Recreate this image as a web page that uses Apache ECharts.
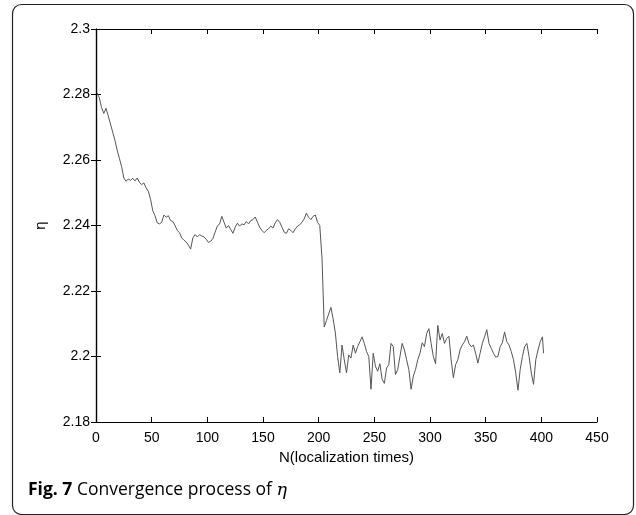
<!DOCTYPE html>
<html>
<head>
<meta charset="utf-8">
<script src="https://cdn.jsdelivr.net/npm/echarts@6/dist/echarts.min.js"></script>
<style>html,body{margin:0;padding:0;background:#fff;}#c{width:636px;height:515px;}</style>
</head>
<body>
<div id="c"></div>
<script>
// N (localization times) sample positions
const N = [1,3,5,7,9,11,13,15,17,19,21,23,25,27,29,31,33,35,37,39,41,43,45,47,49,51,53,55,57,59,61,63,65,67,69,71,73,75,77,79,81,83,85,87,89,91,93,95,97,99,101,103,105,107,109,111,113,115,117,119,121,123,125,127,129,131,133,135,137,139,141,143,145,147,149,151,153,155,157,159,161,163,165,167,169,171,173,175,177,179,181,183,185,187,189,191,193,195,197,199,201,203,205,207,209,211,213,215,217,219,221,223,225,227,229,231,233,235,237,239,241,243,245,247,249,251,253,255,257,259,261,263,265,267,269,271,273,275,277,279,281,283,285,287,289,291,293,295,297,299,301,303,305,307,309,311,313,315,317,319,321,323,325,327,329,331,333,335,337,339,341,343,345,347,349,351,353,355,357,359,361,363,365,367,369,371,373,375,377,379,381,383,385,387,389,391,393,395,397,399,401,402];
// eta values
const eta = [2.2805,2.2790,2.2760,2.2742,2.2758,2.2735,2.2710,2.2685,2.2660,2.2630,2.2605,2.2580,2.2545,2.2535,2.2542,2.2538,2.2544,2.2536,2.2545,2.2532,2.2525,2.2530,2.2515,2.2505,2.2480,2.2445,2.2430,2.2408,2.2405,2.2410,2.2432,2.2425,2.2430,2.2415,2.2412,2.2400,2.2385,2.2378,2.2362,2.2355,2.2350,2.2340,2.2328,2.2362,2.2372,2.2365,2.2372,2.2368,2.2365,2.2358,2.2348,2.2352,2.2360,2.2380,2.2398,2.2405,2.2428,2.2410,2.2392,2.2400,2.2388,2.2376,2.2395,2.2407,2.2398,2.2405,2.2402,2.2412,2.2405,2.2415,2.2418,2.2426,2.2410,2.2395,2.2385,2.2378,2.2385,2.2390,2.2398,2.2392,2.2408,2.2418,2.2410,2.2395,2.2380,2.2376,2.2390,2.2385,2.2378,2.2390,2.2398,2.2402,2.2410,2.2420,2.2438,2.2425,2.2418,2.2428,2.2432,2.2410,2.2400,2.2300,2.2090,2.2110,2.2130,2.2150,2.2115,2.2072,2.2000,2.1950,2.2035,2.1990,2.1950,2.2005,2.1995,2.2035,2.2010,2.2030,2.2045,2.2060,2.2040,2.2015,2.2000,2.1900,2.2010,2.1970,2.1955,2.1978,2.1930,2.1918,2.1965,2.1975,2.2040,2.2030,2.1945,2.1960,2.2000,2.2040,2.2020,2.1990,2.1960,2.1900,2.1940,2.1960,2.1990,2.2010,2.2042,2.2030,2.2070,2.2085,2.2040,2.2000,2.1978,2.2095,2.2050,2.2070,2.2040,2.2055,2.2062,2.1990,2.1935,2.1975,2.1990,2.2020,2.2035,2.2045,2.2062,2.2040,2.2030,2.2035,2.2010,2.1980,2.2010,2.2040,2.2060,2.2082,2.2040,2.2025,2.2010,2.1998,2.2000,2.2030,2.2042,2.2075,2.2045,2.2035,2.2015,2.1990,2.1950,2.1897,2.1960,2.2000,2.2030,2.2040,2.2000,2.1950,2.1915,2.1990,2.2020,2.2045,2.2060,2.2010];
const xTicks = [0,50,100,150,200,250,300,350,400,450];
const yTicks = [2.18,2.2,2.22,2.24,2.26,2.28,2.3];

const chart = echarts.init(document.getElementById('c'), null, {renderer:'canvas'});
const font = 'Liberation Sans, Arial, sans-serif';
const axisCommon = {
  axisLine:{show:true,lineStyle:{color:'#000',width:1.2}},
  axisTick:{show:true,inside:true,length:5,lineStyle:{color:'#000',width:1}},
  splitLine:{show:false}
};
chart.setOption({
  backgroundColor:'#fff',
  animation:false,
  grid:{left:96,right:39,top:29,bottom:93,containLabel:false},
  xAxis:[
    Object.assign({type:'value',min:xTicks[0],max:xTicks[xTicks.length-1],interval:50,position:'bottom',
      name:'N(localization times)',nameLocation:'middle',nameGap:26,
      nameTextStyle:{fontFamily:font,fontSize:15,color:'#000'},
      axisLabel:{fontFamily:font,fontSize:14,color:'#000',margin:9}},axisCommon),
    Object.assign({type:'value',min:0,max:450,interval:50,position:'top',axisLabel:{show:false}},axisCommon)
  ],
  yAxis:[
    Object.assign({type:'value',min:yTicks[0],max:yTicks[yTicks.length-1],interval:0.02,position:'left',
      name:'η',nameLocation:'middle',nameGap:48,nameRotate:90,
      nameTextStyle:{fontFamily:font,fontSize:15,color:'#000'},
      axisLabel:{fontFamily:font,fontSize:14,color:'#000',margin:6,
        formatter:v=>String(parseFloat(v.toFixed(2)))}},axisCommon),
    Object.assign({type:'value',min:2.18,max:2.3,interval:0.02,position:'right',axisLabel:{show:false}},axisCommon)
  ],
  series:[{
    type:'line',
    data:N.map((n,i)=>[n,eta[i]]),
    showSymbol:false,symbol:'none',
    lineStyle:{color:'#555',width:1},
    xAxisIndex:0,yAxisIndex:0
  }],
  graphic:[
    {type:'rect',shape:{x:12.5,y:4.5,width:621,height:510,r:9},style:{fill:'none',stroke:'#222',lineWidth:1.2},silent:true},
    {type:'text',left:28,top:481,style:{
      rich:{
        b:{fontFamily:'Open Sans, sans-serif',fontWeight:'bold',fontSize:17.5,fill:'#000'},
        r:{fontFamily:'Open Sans, sans-serif',fontSize:17.5,fill:'#000'},
        i:{fontFamily:'DejaVu Serif, serif',fontStyle:'italic',fontSize:17.5,fill:'#000'}
      },
      text:'{b|Fig. 7}{r| Convergence process of }{i|η}'
    }}
  ]
});
</script>
</body>
</html>
